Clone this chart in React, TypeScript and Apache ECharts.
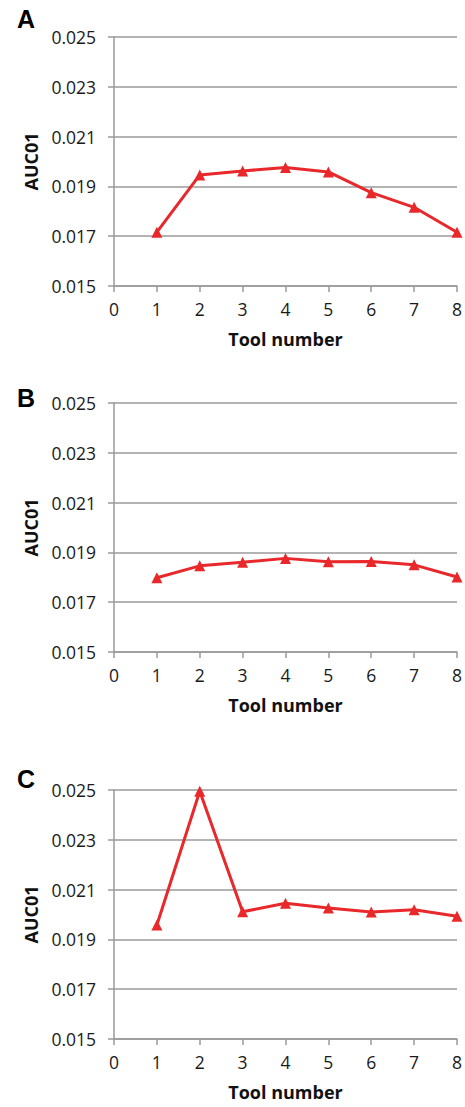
import React, { useEffect, useRef } from "react";
import * as echarts from "echarts";

const toolNumbers = [1, 2, 3, 4, 5, 6, 7, 8];
const panelLabels = ["A", "B", "C"];
const seriesA = [0.01716, 0.01946, 0.01962, 0.01976, 0.01958, 0.01875, 0.01816, 0.01716];
const seriesB = [0.01798, 0.01846, 0.0186, 0.01876, 0.01862, 0.01863, 0.0185, 0.01801];
const seriesC = [0.01958, 0.02495, 0.02011, 0.02045, 0.02026, 0.0201, 0.02019, 0.01993];
const yTicks = [0.015, 0.017, 0.019, 0.021, 0.023, 0.025];

const allSeries = [seriesA, seriesB, seriesC];
const gridTops = [37, 403, 790];
const gridHeight = 249;
const labelCenters = [18.5, 397.5, 779];

const GREY = "#9a9a9a";
const RED = "#e8282a";
const FONT = "Open Sans";

export default function App() {
  const ref = useRef<HTMLDivElement>(null);
  useEffect(() => {
    document.body.style.margin = "0";
    const chart = echarts.init(ref.current!, undefined, { renderer: "svg" });
    const grids = gridTops.map((t) => ({ left: 114, right: 7, top: t, height: gridHeight }));
    const xAxes = gridTops.map((_, i) => ({
      type: "value",
      gridIndex: i,
      min: 0,
      max: 8,
      interval: 1,
      name: "Tool number",
      nameLocation: "middle",
      nameGap: 44,
      nameTextStyle: { fontFamily: FONT, fontWeight: "bold", fontSize: 18, color: "#111" },
      axisLine: { show: true, lineStyle: { color: GREY, width: 1.5 } },
      axisTick: { show: true, length: 6, lineStyle: { color: GREY, width: 1.5 } },
      axisLabel: { fontFamily: FONT, fontSize: 17.5, color: "#1a1a1a", margin: 14 },
      splitLine: { show: false },
    }));
    const yAxes = gridTops.map((_, i) => ({
      type: "value",
      gridIndex: i,
      min: yTicks[0],
      max: yTicks[yTicks.length - 1],
      interval: 0.002,
      name: "AUC01",
      nameLocation: "middle",
      nameGap: 70,
      nameTextStyle: { fontFamily: FONT, fontWeight: "bold", fontSize: 18, color: "#111" },
      axisLine: { show: true, lineStyle: { color: GREY, width: 1.5 } },
      axisTick: { show: true, length: 6, lineStyle: { color: GREY, width: 1.5 } },
      axisLabel: {
        fontFamily: FONT,
        fontSize: 17.5,
        color: "#1a1a1a",
        margin: 18,
        formatter: (v: number) => v.toFixed(3),
      },
      splitLine: { show: true, lineStyle: { color: GREY, width: 1.5 } },
    }));
    const series = allSeries.map((vals, i) => ({
      type: "line",
      xAxisIndex: i,
      yAxisIndex: i,
      data: vals.map((v, j) => [toolNumbers[j], v]),
      symbol: "triangle",
      symbolSize: 11,
      lineStyle: { color: RED, width: 3 },
      itemStyle: { color: RED },
      clip: false,
    }));
    const graphic = panelLabels.map((l, i) => ({
      type: "text",
      left: 17,
      top: labelCenters[i] - 12.5,
      style: {
        text: l,
        fontFamily: "Liberation Sans",
        fontWeight: "bold",
        fontSize: 25,
        fill: "#000",
      },
    }));
    chart.setOption({
      animation: false,
      backgroundColor: "#fff",
      grid: grids,
      xAxis: xAxes,
      yAxis: yAxes,
      series,
      graphic,
    });
    return () => chart.dispose();
  }, []);
  return <div ref={ref} style={{ width: 465, height: 1107 }} />;
}
